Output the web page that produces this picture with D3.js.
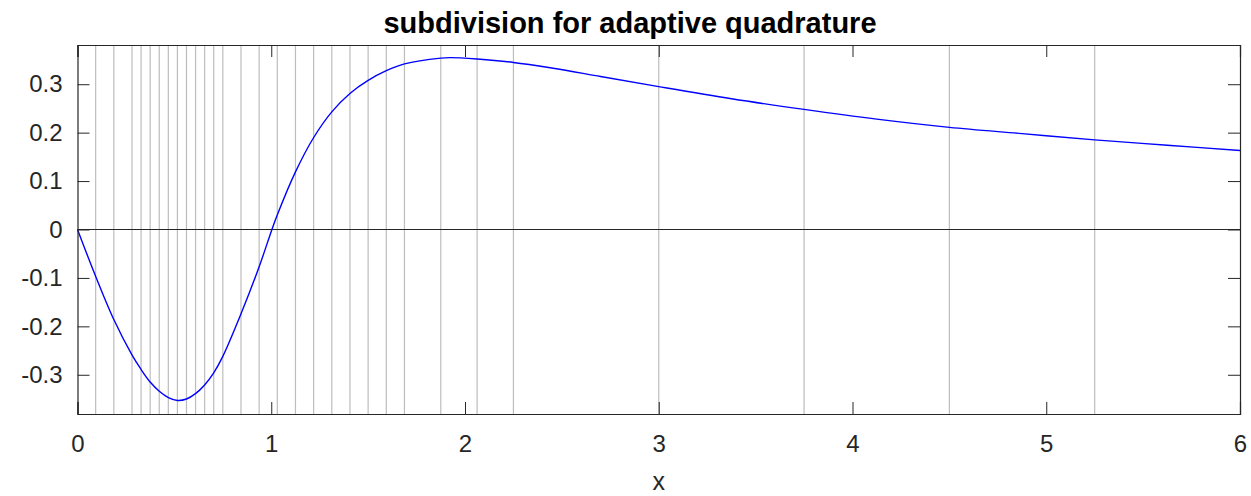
<!DOCTYPE html>
<html>
<head>
<meta charset="utf-8">
<script src="https://cdn.jsdelivr.net/npm/d3@7"></script>
<style>
  body { margin: 0; background: #fff; }
  text { font-family: "Liberation Sans", Arial, sans-serif; fill: #262626; }
</style>
</head>
<body>
<div id="chart"></div>
<script>
// curve samples
const xs = [0, 0.094, 0.1875, 0.281, 0.328, 0.375, 0.422, 0.469, 0.516, 0.5625, 0.609, 0.656, 0.703, 0.75,
  0.844, 0.9375, 1.0, 1.031, 1.125, 1.219, 1.3125, 1.406, 1.5, 1.594, 1.6875, 1.875, 1.923, 2.0625, 2.25,
  2.44, 2.7, 3.0, 3.375, 3.75, 4.125, 4.5, 4.875, 5.25, 5.625, 6.0];
const ys = [0, -0.097, -0.186, -0.259, -0.289, -0.315, -0.334, -0.347, -0.353, -0.350, -0.339, -0.321, -0.296, -0.262,
  -0.174, -0.077, -0.004, 0.030, 0.119, 0.190, 0.243, 0.281, 0.308, 0.328, 0.342, 0.354, 0.355, 0.352, 0.345,
  0.334, 0.316, 0.295, 0.270, 0.248, 0.228, 0.211, 0.198, 0.185, 0.174, 0.163];

// subdivision points
const breaks = [0.09375, 0.1875, 0.28125, 0.328125, 0.375, 0.421875, 0.46875, 0.515625, 0.5625, 0.609375,
  0.65625, 0.703125, 0.75, 0.84375, 0.9375, 1.03125, 1.125, 1.21875, 1.3125, 1.40625, 1.5, 1.59375, 1.6875,
  1.875, 2.0625, 2.25, 3.0, 3.75, 4.5, 5.25];

const xTicks = [0, 1, 2, 3, 4, 5, 6];
const yTicks = [-0.3, -0.2, -0.1, 0, 0.1, 0.2, 0.3];

const width = 1251, height = 496,
  margin = { top: 45, right: 11, bottom: 82, left: 77.5 };

const x = d3.scaleLinear().domain([0, 6]).range([margin.left, width - margin.right]);
const y = d3.scaleLinear().domain([-0.381, 0.381]).range([height - margin.bottom, margin.top]);

const svg = d3.select("#chart").append("svg")
  .attr("width", width)
  .attr("height", height);

// gray subdivision lines
svg.append("g")
  .selectAll("line")
  .data(breaks)
  .join("line")
  .attr("x1", d => x(d)).attr("x2", d => x(d))
  .attr("y1", y.range()[0]).attr("y2", y.range()[1])
  .attr("stroke", "#bdbdbd")
  .attr("stroke-width", 1.2);

// zero line
svg.append("line")
  .attr("x1", x(0)).attr("x2", x(6))
  .attr("y1", y(0)).attr("y2", y(0))
  .attr("stroke", "#262626")
  .attr("stroke-width", 1);

// curve
const pts = xs.map((v, i) => [v, ys[i]]);
svg.append("path")
  .datum(pts)
  .attr("fill", "none")
  .attr("stroke", "#0000ff")
  .attr("stroke-width", 1.4)
  .attr("d", d3.line().x(d => x(d[0])).y(d => y(d[1])).curve(d3.curveCatmullRom.alpha(0.5)));

// axes (ticks pointing inward, mirrored on the box)
const tickLen = 12;
const fmtY = d => d === 0 ? "0" : d3.format(".1f")(d).replace("\u2212", "-");
const xAxis = svg.append("g")
  .attr("transform", `translate(0,${y.range()[0]})`)
  .call(d3.axisBottom(x).tickValues(xTicks).tickSize(-tickLen).tickPadding(21).tickFormat(d3.format("d")));
const xTop = svg.append("g")
  .attr("transform", `translate(0,${y.range()[1]})`)
  .call(d3.axisTop(x).tickValues(xTicks).tickSize(-tickLen).tickFormat(""));
const yAxis = svg.append("g")
  .attr("transform", `translate(${x.range()[0]},0)`)
  .call(d3.axisLeft(y).tickValues(yTicks).tickSize(-tickLen).tickPadding(15).tickFormat(fmtY));
const yRight = svg.append("g")
  .attr("transform", `translate(${x.range()[1]},0)`)
  .call(d3.axisRight(y).tickValues(yTicks).tickSize(-tickLen).tickFormat(""));

[xAxis, xTop, yAxis, yRight].forEach(g => {
  g.select(".domain").attr("stroke", "#262626").attr("stroke-width", 1.2);
  g.selectAll(".tick line").attr("stroke", "#262626");
  g.selectAll(".tick text").attr("font-size", 24).attr("fill", "#262626")
    .attr("font-family", "Liberation Sans, Arial, sans-serif");
});

// title and label
svg.append("text")
  .attr("x", 630)
  .attr("y", 33)
  .attr("text-anchor", "middle")
  .attr("font-size", 29)
  .attr("font-weight", "bold")
  .style("fill", "#000")
  .text("subdivision for adaptive quadrature");

svg.append("text")
  .attr("x", (x.range()[0] + x.range()[1]) / 2)
  .attr("y", 490)
  .attr("text-anchor", "middle")
  .attr("font-size", 25)
  .text("x");
</script>
</body>
</html>
